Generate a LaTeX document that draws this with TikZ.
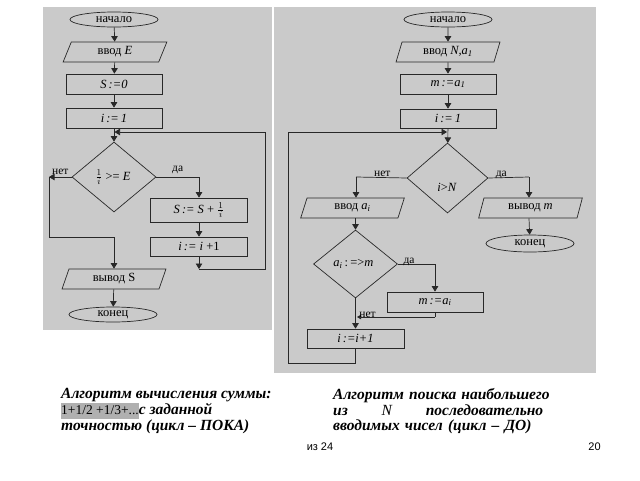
\documentclass[tikz,border=0pt]{standalone}
\usepackage{fontspec}
\setmainfont{Liberation Serif}
\newfontfamily\footfont{Liberation Sans}
\usetikzlibrary{shapes.geometric,arrows.meta,positioning}
\definecolor{panelgray}{RGB}{202,202,202}
\definecolor{linegray}{RGB}{40,40,40}
\definecolor{markgray}{RGB}{176,176,176}

\begin{document}
\begin{tikzpicture}[x=1pt,y=-1pt,
  font=\fontsize{12.5}{13}\selectfont,
  flow/.style={draw=linegray, line width=0.7pt},
  arr/.style={flow, -{Triangle[length=5.5pt,width=6.5pt]}},
  term/.style={ellipse, flow, minimum width=88, minimum height=15, inner sep=0pt},
  io/.style={trapezium, trapezium left angle=73, trapezium right angle=107,
    trapezium stretches=true, flow, minimum width=104, minimum height=20, inner sep=0pt},
  proc/.style={rectangle, flow, minimum width=96, minimum height=20, inner sep=0pt},
  cond/.style={diamond, flow, minimum width=84, minimum height=70, inner sep=0pt},
  lbl/.style={inner sep=0.5pt, font=\fontsize{11.5}{12}\selectfont},
  caption/.style={anchor=north west, inner sep=0pt, align=left,
    font=\fontsize{15.5}{15.8}\selectfont\bfseries\itshape}
]
\useasboundingbox (0,0) rectangle (640,480);

% panels
\fill[panelgray] (43,7) rectangle (272,330);
\fill[panelgray] (274,7) rectangle (596,373);

% sum, loop while
\node[term] (startL) at (114,19.5) {начало};
\node[io] (inE) at (115,52) {ввод \textit{E}};
\node[proc] (zeroS) at (114,84) {\textit{S\,:=0}};
\node[proc] (initL) at (114,118) {\textit{i\,:=\,1}};
\node[cond] (testL) at (114,177) {$\frac{1}{i}$ >= \textit{E}\,};
\node[proc, minimum width=97, minimum height=24] (sumS) at (199,210) {\textit{S\,:= S} + $\frac{1}{i}$};
\node[proc, minimum width=97, minimum height=19] (incL) at (199,246.5) {\textit{i\,:= i} +1};
\node[io] (outS) at (114,279) {вывод S};
\node[term] (endL) at (113,314.5) {конец};

\coordinate (joinL) at (114.5,132);
\coordinate (yesL) at (199,177);
\coordinate (loopL) at (199,269);
\coordinate (loopLr) at (265,269);
\coordinate (loopLt) at (265,132);
\coordinate (noL) at (49,177);
\coordinate (noLb) at (49,237);
\coordinate (noLc) at (114,237);

\draw[arr] (startL) -- (inE);
\draw[arr] (inE) -- (zeroS);
\draw[arr] (zeroS) -- (initL);
\draw[arr] (initL) -- (testL);
\draw[flow] (testL.east) -- (yesL) node[lbl, midway, above=2pt] {да};
\draw[arr] (yesL) -- (sumS);
\draw[arr] (sumS) -- (incL);
\draw[arr] (incL) -- (loopL);
\draw[arr] (loopL) -- (loopLr) -- (loopLt) -- (joinL);
\draw[arr] (testL.west) -- (noL) node[lbl, midway, above=2pt] {нет};
\draw[flow] (noL) -- (noLb) -- (noLc);
\draw[arr] (noLc) -- (outS);
\draw[arr] (outS) -- (endL);

% maximum, loop until
\node[term] (startR) at (448,19.5) {начало};
\node[io] (inN) at (448,52) {ввод \textit{N,a}\textsubscript{\textit{1}}};
\node[proc] (initM) at (448,84) {\textit{m\,:=a}\textsubscript{\textit{1}}};
\node[proc, minimum height=19] (initR) at (448,118.5) {\textit{i\,:=\,1}};
\node[cond, minimum width=81] (testR) at (447.5,178) {};
\node (testRtxt) at (447,187) {\textit{i}>\textit{N}};
\node[io] (inA) at (352.5,208) {ввод \textit{a}\textsubscript{\textit{i}}};
\node[io] (outM) at (530.5,208) {вывод \textit{m}};
\node[term, minimum height=17] (endR) at (530,243.5) {конец};
\node[cond, minimum height=68] (testA) at (355.5,264) {\textit{a}\textsubscript{\textit{i}}\,:\,=>\textit{m}\,\,};
\node[proc] (setM) at (435,302) {\textit{m\,:=a}\textsubscript{\textit{i}}};
\node[proc, minimum width=97, minimum height=19] (incR) at (355.5,338.5) {\textit{i\,:=i+1}};

\coordinate (joinR) at (447,132);
\coordinate (noR) at (356,177);
\coordinate (yesR) at (529,177);
\coordinate (yesA) at (435,264);
\coordinate (backA) at (435,317);
\coordinate (mergeA) at (357,317);
\coordinate (loopR) at (355.5,363);
\coordinate (loopRl) at (288,363);
\coordinate (loopRt) at (288,132);

\draw[arr] (startR) -- (inN);
\draw[arr] (inN) -- (initM);
\draw[arr] (initM) -- (initR);
\draw[arr] (initR) -- (testR);
\draw[flow] (testR.west) -- (noR) node[lbl, pos=0.48, anchor=base, yshift=1pt] {нет};
\draw[arr] (noR) -- (inA.north -| noR);
\draw[flow] (testR.east) -- (yesR) node[lbl, pos=0.32, anchor=base, yshift=1pt] {да};
\draw[arr] (yesR) -- (outM.north -| yesR);
\draw[arr] (outM.south -| yesR) -- (endR);
\draw[arr] (inA.south -| testA.north) -- (testA.north);
\draw[flow] (testA.east) -- (yesA) node[lbl, pos=0.3, anchor=base, yshift=1pt] {да};
\draw[arr] (yesA) -- (setM);
\draw[flow] (setM) -- (backA);
\draw[flow, -{Triangle[length=4pt,width=4.5pt]}] (backA) -- (mergeA);
\draw[arr] (testA) -- (incR) node[lbl, pos=0.62, anchor=base west, xshift=3pt] {нет};
\draw[arr] (incR) -- (loopR) -- (loopRl) -- (loopRt) -- (joinR);

% captions
\node[caption] (capL) at (61,388) {Алгоритм вычисления суммы:\\
  {\setlength\fboxsep{0pt}\colorbox{markgray}{\strut\mdseries\upshape\fontsize{13.5}{15.8}\selectfont 1+1/2 +1/3+...}}с заданной\\
  точностью (цикл – ПОКА)};
\node[caption, text width=210] (capR) at (333,388) {\mbox{Алгоритм поиска наибольшего}\\
  из\hfill{\mdseries\textit{N}}\hfill последовательно\\
  \mbox{вводимых чисел (цикл – ДО)}};

% page footer
\node[font=\footfont\fontsize{11}{12}\selectfont] (pageOf) at (320,447) {из 24};
\node[font=\footfont\fontsize{11}{12}\selectfont] (pageNum) at (594.5,447) {20};
\end{tikzpicture}
\end{document}
